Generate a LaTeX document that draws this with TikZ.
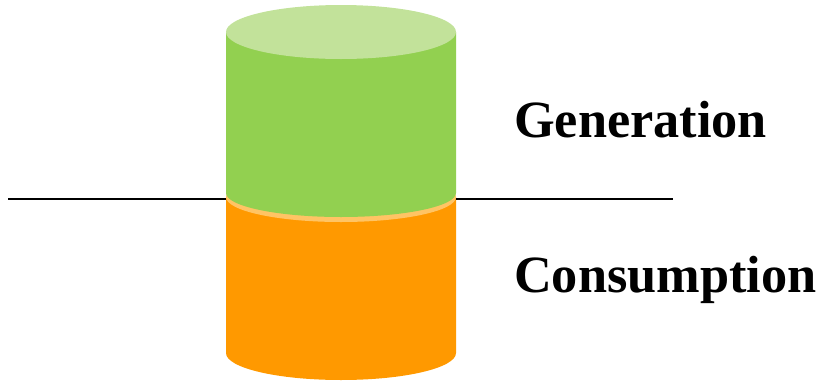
\documentclass[tikz,border=0pt]{standalone}
\usepackage{fontspec}
\setmainfont{Liberation Serif}
\definecolor{greenside}{RGB}{146,208,80}
\definecolor{greentop}{RGB}{194,226,154}
\definecolor{orangeside}{RGB}{255,153,0}
\definecolor{orangetop}{RGB}{255,196,100}
\tikzset{
  label text/.style={anchor=base west, inner sep=0pt, font=\fontsize{52.3}{60}\selectfont\bfseries},
  level line/.style={line width=2pt, black}
}
\begin{document}
\begin{tikzpicture}[x=1pt, y=-1pt]
\useasboundingbox (0,0) rectangle (823,381);
% lower (orange) cylinder
\fill[orangeside] (226,197) -- (226,353) arc[start angle=180, end angle=0, x radius=115, y radius=27] -- (456,197) -- cycle;
\fill[orangetop] (341,197) ellipse[x radius=115, y radius=25];
% upper (green) cylinder
\fill[greenside] (226,32) -- (226,193) arc[start angle=180, end angle=0, x radius=115, y radius=24] -- (456,32) -- cycle;
\fill[greentop] (341,32) ellipse[x radius=115, y radius=27];
% level line on both sides
\coordinate (l1) at (8,199);
\coordinate (l2) at (226,199);
\coordinate (r1) at (456,199);
\coordinate (r2) at (673,199);
\draw[level line] (l1) -- (l2);
\draw[level line] (r1) -- (r2);
% labels
\node[label text] (gen) at (514,137) {Generation};
\node[label text] (con) at (514,292) {Consumption};
\end{tikzpicture}
\end{document}
